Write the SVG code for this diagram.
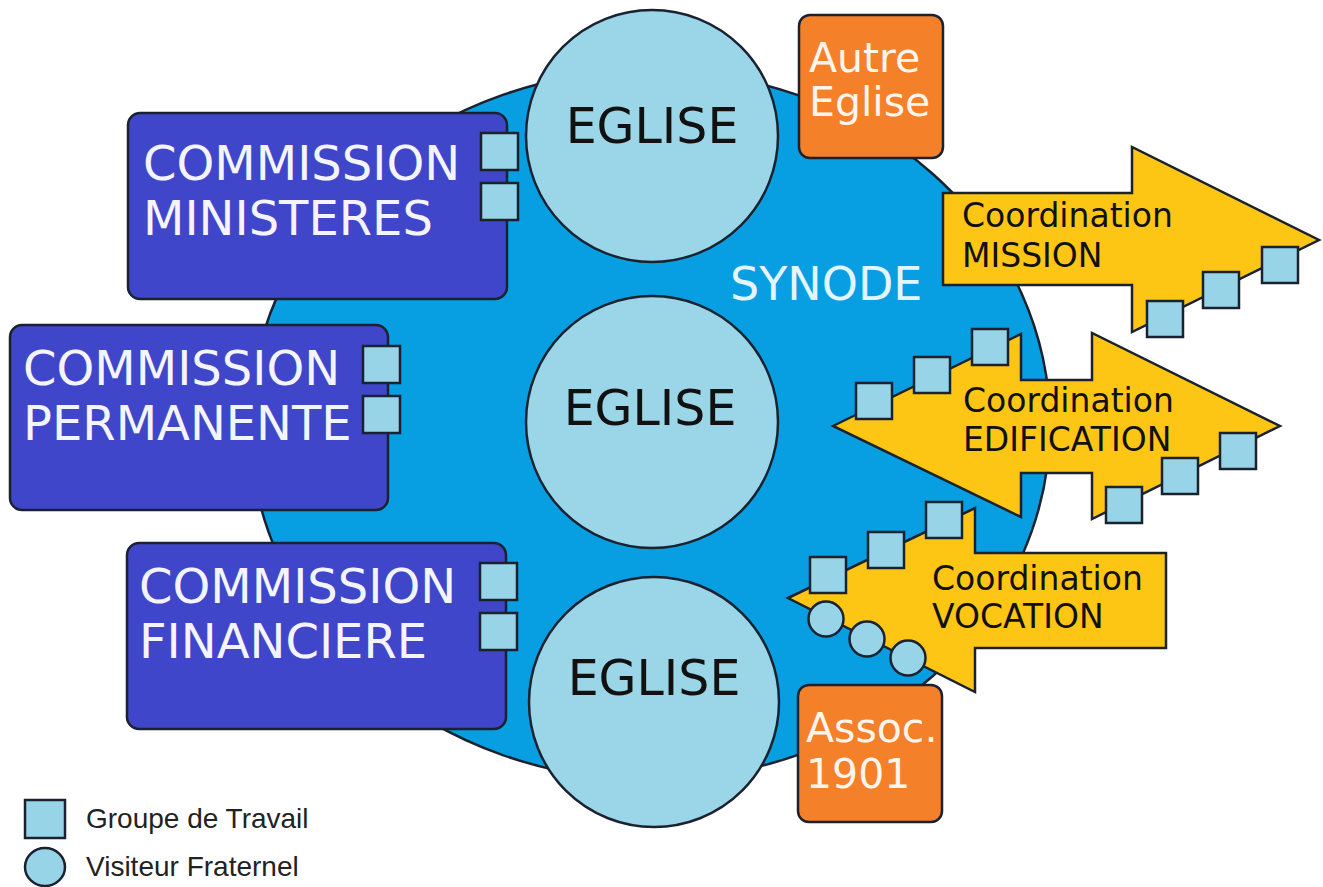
<svg xmlns="http://www.w3.org/2000/svg" width="1323" height="887" viewBox="0 0 1323 887">
<defs>
<style>
.syn{fill:#079fe2;stroke:#1a2230;stroke-width:2.5}
.eg{fill:#9bd5e8;stroke:#1a2230;stroke-width:2.5}
.com{fill:#4046c9;stroke:#1a2230;stroke-width:2.5}
.org{fill:#f5802a;stroke:#1a2230;stroke-width:2.5}
.arr{fill:#fdc614;stroke:#1a2230;stroke-width:2.5;stroke-linejoin:miter}
.gt{fill:#98d4e7;stroke:#1a2230;stroke-width:2.5}
.t{font-family:'DejaVu Sans','Liberation Sans',sans-serif}
.big{font-size:48px;fill:#f4f4ff}
.egt{font-size:49px;fill:#111;text-anchor:middle}
.ot{font-size:41px;fill:#fff5ec}
.ct{font-size:33px;fill:#111}
.lg{font-family:'Liberation Sans',Arial,sans-serif;font-size:28px;fill:#222}
</style>
</defs>

<g id="synode">
<ellipse class="syn" cx="650" cy="425" rx="400" ry="355"/>
<text class="t" x="730" y="300" font-size="46" fill="#e4f5ff">SYNODE</text>
</g>

<g id="commission-ministeres">
<rect class="com" x="128" y="113" width="379" height="186" rx="12"/>
<text class="t big" x="143" y="180">COMMISSION</text>
<text class="t big" x="143" y="235">MINISTERES</text>
<rect class="gt" x="481" y="133" width="37" height="37"/>
<rect class="gt" x="481" y="183" width="37" height="37"/>
</g>

<g id="commission-permanente">
<rect class="com" x="10" y="325" width="378" height="185" rx="12"/>
<text class="t big" x="23" y="385">COMMISSION</text>
<text class="t big" x="23" y="440">PERMANENTE</text>
<rect class="gt" x="363" y="346" width="37" height="37"/>
<rect class="gt" x="363" y="396" width="37" height="37"/>
</g>

<g id="commission-financiere">
<rect class="com" x="127" y="543" width="379" height="186" rx="12"/>
<text class="t big" x="139" y="603">COMMISSION</text>
<text class="t big" x="139" y="658">FINANCIERE</text>
<rect class="gt" x="480" y="563" width="37" height="37"/>
<rect class="gt" x="480" y="613" width="37" height="37"/>
</g>

<g id="eglise-1">
<circle class="eg" cx="652" cy="136" r="126"/>
<text class="t egt" x="652" y="143">EGLISE</text>
</g>
<g id="eglise-2">
<circle class="eg" cx="652" cy="422" r="126"/>
<text class="t egt" x="650" y="425">EGLISE</text>
</g>
<g id="eglise-3">
<circle class="eg" cx="654" cy="702" r="125"/>
<text class="t egt" x="654" y="695">EGLISE</text>
</g>

<g id="autre-eglise">
<rect class="org" x="799" y="15" width="144" height="143" rx="11"/>
<text class="t ot" x="809" y="72">Autre</text>
<text class="t ot" x="809" y="116">Eglise</text>
</g>

<g id="assoc-1901">
<rect class="org" x="798" y="685" width="144" height="137" rx="11"/>
<text class="t ot" x="806" y="742">Assoc.</text>
<text class="t ot" x="806" y="788">1901</text>
</g>

<g id="coordination-mission">
<polygon class="arr" points="943,193 1132,193 1132,147 1319,240 1132,332 1132,285 943,285"/>
<text class="t ct" x="962" y="227">Coordination</text>
<text class="t ct" x="962" y="267">MISSION</text>
<rect class="gt" x="1147" y="301" width="36" height="36"/>
<rect class="gt" x="1203" y="272" width="36" height="36"/>
<rect class="gt" x="1262" y="247" width="36" height="36"/>
</g>

<g id="coordination-edification">
<polygon class="arr" points="833,426 1021,334 1021,380 1092,380 1092,333 1280,426 1092,519 1092,473 1021,473 1021,517"/>
<text class="t ct" x="963" y="412">Coordination</text>
<text class="t ct" x="963" y="451">EDIFICATION</text>
<rect class="gt" x="856" y="383" width="36" height="36"/>
<rect class="gt" x="914" y="357" width="36" height="36"/>
<rect class="gt" x="972" y="329" width="36" height="36"/>
<rect class="gt" x="1106" y="487" width="36" height="36"/>
<rect class="gt" x="1162" y="458" width="36" height="36"/>
<rect class="gt" x="1220" y="433" width="36" height="36"/>
</g>

<g id="coordination-vocation">
<polygon class="arr" points="788,598 975,508 975,553 1166,553 1166,648 975,648 975,692"/>
<text class="t ct" x="932" y="590">Coordination</text>
<text class="t ct" x="932" y="628">VOCATION</text>
<rect class="gt" x="810" y="557" width="36" height="36"/>
<rect class="gt" x="868" y="532" width="36" height="36"/>
<rect class="gt" x="926" y="502" width="36" height="36"/>
<circle class="gt" cx="826" cy="619" r="17.5"/>
<circle class="gt" cx="867" cy="639" r="17.5"/>
<circle class="gt" cx="908" cy="658" r="17.5"/>
</g>

<g id="legend">
<rect class="gt" x="25" y="800" width="40" height="38"/>
<text class="lg" x="86" y="828">Groupe de Travail</text>
<ellipse class="gt" cx="45" cy="867" rx="20" ry="19"/>
<text class="lg" x="86" y="876">Visiteur Fraternel</text>
</g>
</svg>
